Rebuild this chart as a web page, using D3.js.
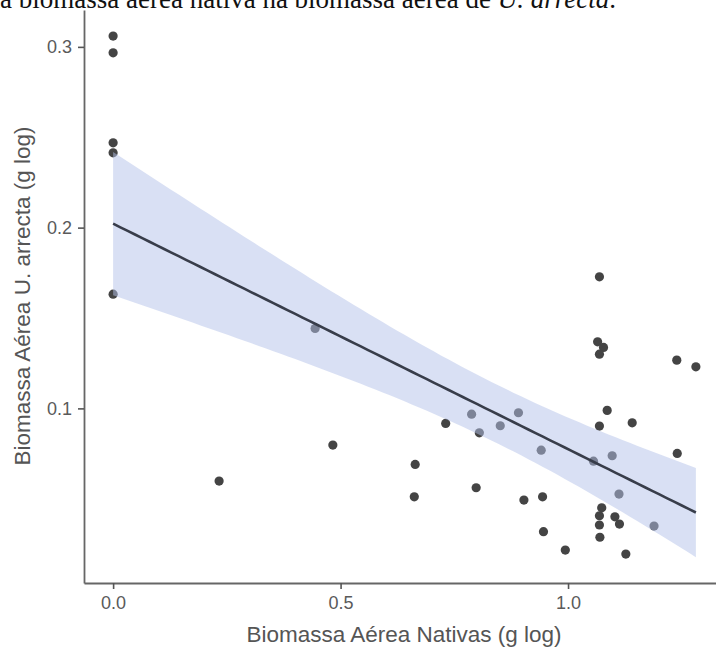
<!DOCTYPE html>
<html>
<head>
<meta charset="utf-8">
<script src="https://cdn.jsdelivr.net/npm/d3@7"></script>
<style>
  body { margin: 0; background: #fff; }
  svg { display: block; }
</style>
</head>
<body>
<div id="chart"></div>
<script>
"use strict";

/* Native aerial biomass (g log) */
var nativas = [
  0, 0, 0, 0, 0,
  0.233, 0.444, 0.483, 0.664, 0.662, 0.731, 0.788, 0.805, 0.798, 0.851,
  0.891, 0.903, 0.941, 0.944, 0.946, 0.994,
  1.069, 1.065, 1.078, 1.069, 1.086, 1.069, 1.141, 1.056, 1.097, 1.112,
  1.074, 1.069, 1.069, 1.070, 1.103, 1.113, 1.127, 1.189, 1.239, 1.281, 1.240
];

/* U. arrecta aerial biomass (g log) */
var arrecta = [
  0.306, 0.2967, 0.2469, 0.2414, 0.1632,
  0.0598, 0.1442, 0.0797, 0.069, 0.0511, 0.0917, 0.0968, 0.0865, 0.0561, 0.0904,
  0.0976, 0.0493, 0.0769, 0.0511, 0.0318, 0.0216,
  0.1728, 0.1368, 0.1337, 0.130, 0.0989, 0.0902, 0.092, 0.0708, 0.0738, 0.0526,
  0.045, 0.0406, 0.0355, 0.0287, 0.040, 0.036, 0.0194, 0.0349, 0.1267, 0.123, 0.0751
];

var xTicks = [0, 0.5, 1.0];
var yTicks = [0.1, 0.2, 0.3];

var titleText = "da biomassa aérea nativa na biomassa aérea de ";
var titleItalic = "U. arrecta";
var xLabel = "Biomassa Aérea Nativas (g log)";
var yLabel = "Biomassa Aérea U. arrecta (g log)";

var width = 716, height = 651;

var svg = d3.select("#chart")
  .append("svg")
    .attr("width", width)
    .attr("height", height);

/* scales - panel is cut on the right like the original */
var x = d3.scaleLinear().domain([-0.064, 1.345]).range([84, 725]);
var y = d3.scaleLinear().domain([0.0034, 0.3204]).range([583, 10]);

/* data table */
var data = nativas.map(function (d, i) { return { x: d, y: arrecta[i] }; });

/* linear fit + 95% confidence band (like geom_smooth(method = "lm")) */
var n = data.length;
var mx = d3.mean(data, function (d) { return d.x; });
var my = d3.mean(data, function (d) { return d.y; });
var sxx = d3.sum(data, function (d) { return (d.x - mx) * (d.x - mx); });
var sxy = d3.sum(data, function (d) { return (d.x - mx) * (d.y - my); });
var slope = sxy / sxx;
var icpt = my - slope * mx;
var sse = d3.sum(data, function (d) { var r = d.y - (icpt + slope * d.x); return r * r; });
var s = Math.sqrt(sse / (n - 2));
var tq = 2.021; /* t(0.975, 40) */

var xmin = d3.min(nativas), xmax = d3.max(nativas);
var fit = d3.range(0, 81).map(function (i) {
  var xv = xmin + (xmax - xmin) * i / 80;
  var yv = icpt + slope * xv;
  var se = s * Math.sqrt(1 / n + (xv - mx) * (xv - mx) / sxx);
  return { x: xv, y: yv, lo: yv - tq * se, hi: yv + tq * se };
});

/* points */
svg.append("g")
  .selectAll("circle")
  .data(data)
  .enter()
  .append("circle")
    .attr("cx", function (d) { return x(d.x); })
    .attr("cy", function (d) { return y(d.y); })
    .attr("r", 4.6)
    .style("fill", "#444");

/* ribbon */
svg.append("path")
  .datum(fit)
  .attr("d", d3.area()
    .x(function (d) { return x(d.x); })
    .y0(function (d) { return y(d.lo); })
    .y1(function (d) { return y(d.hi); }))
  .style("fill", "#b4c1ea")
  .style("fill-opacity", 0.5);

/* regression line */
svg.append("path")
  .datum(fit)
  .attr("d", d3.line()
    .x(function (d) { return x(d.x); })
    .y(function (d) { return y(d.y); }))
  .style("fill", "none")
  .style("stroke", "#383d4a")
  .style("stroke-width", 2.6);

/* axes */
var xAxis = svg.append("g")
  .attr("transform", "translate(0,583)")
  .call(d3.axisBottom(x).tickValues(xTicks).tickSize(6).tickSizeOuter(0).tickPadding(7)
    .tickFormat(d3.format(".1f")));

var yAxis = svg.append("g")
  .attr("transform", "translate(84,0)")
  .call(d3.axisLeft(y).tickValues(yTicks).tickSize(6).tickSizeOuter(0).tickPadding(6)
    .tickFormat(d3.format(".1f")));

[xAxis, yAxis].forEach(function (g) {
  g.select(".domain").style("stroke", "#666").style("stroke-width", 1.8);
  g.selectAll(".tick line").style("stroke", "#555").style("stroke-width", 1.6);
  g.selectAll(".tick text")
    .style("font-family", "'Liberation Sans', Arial, sans-serif")
    .style("font-size", "18px")
    .style("fill", "#5a5a5a");
});

/* axis titles */
svg.append("text")
  .attr("x", 404)
  .attr("y", 642)
  .attr("text-anchor", "middle")
  .style("font-family", "'Liberation Sans', Arial, sans-serif")
  .style("font-size", "22.5px")
  .style("fill", "#555")
  .text(xLabel);

svg.append("text")
  .attr("transform", "translate(30,296) rotate(-90)")
  .attr("text-anchor", "middle")
  .style("font-family", "'Liberation Sans', Arial, sans-serif")
  .style("font-size", "22.5px")
  .style("fill", "#555")
  .text(yLabel);

/* caption cut at the top of the picture, as in the source image */
var cap = svg.append("text")
  .attr("x", 616)
  .attr("y", 8)
  .attr("text-anchor", "end")
  .style("font-family", "'Liberation Serif', 'Times New Roman', serif")
  .style("font-size", "27px")
  .style("fill", "#111");
cap.append("tspan").text(titleText);
cap.append("tspan").style("font-style", "italic").text(titleItalic);
cap.append("tspan").text(".");
</script>
</body>
</html>
